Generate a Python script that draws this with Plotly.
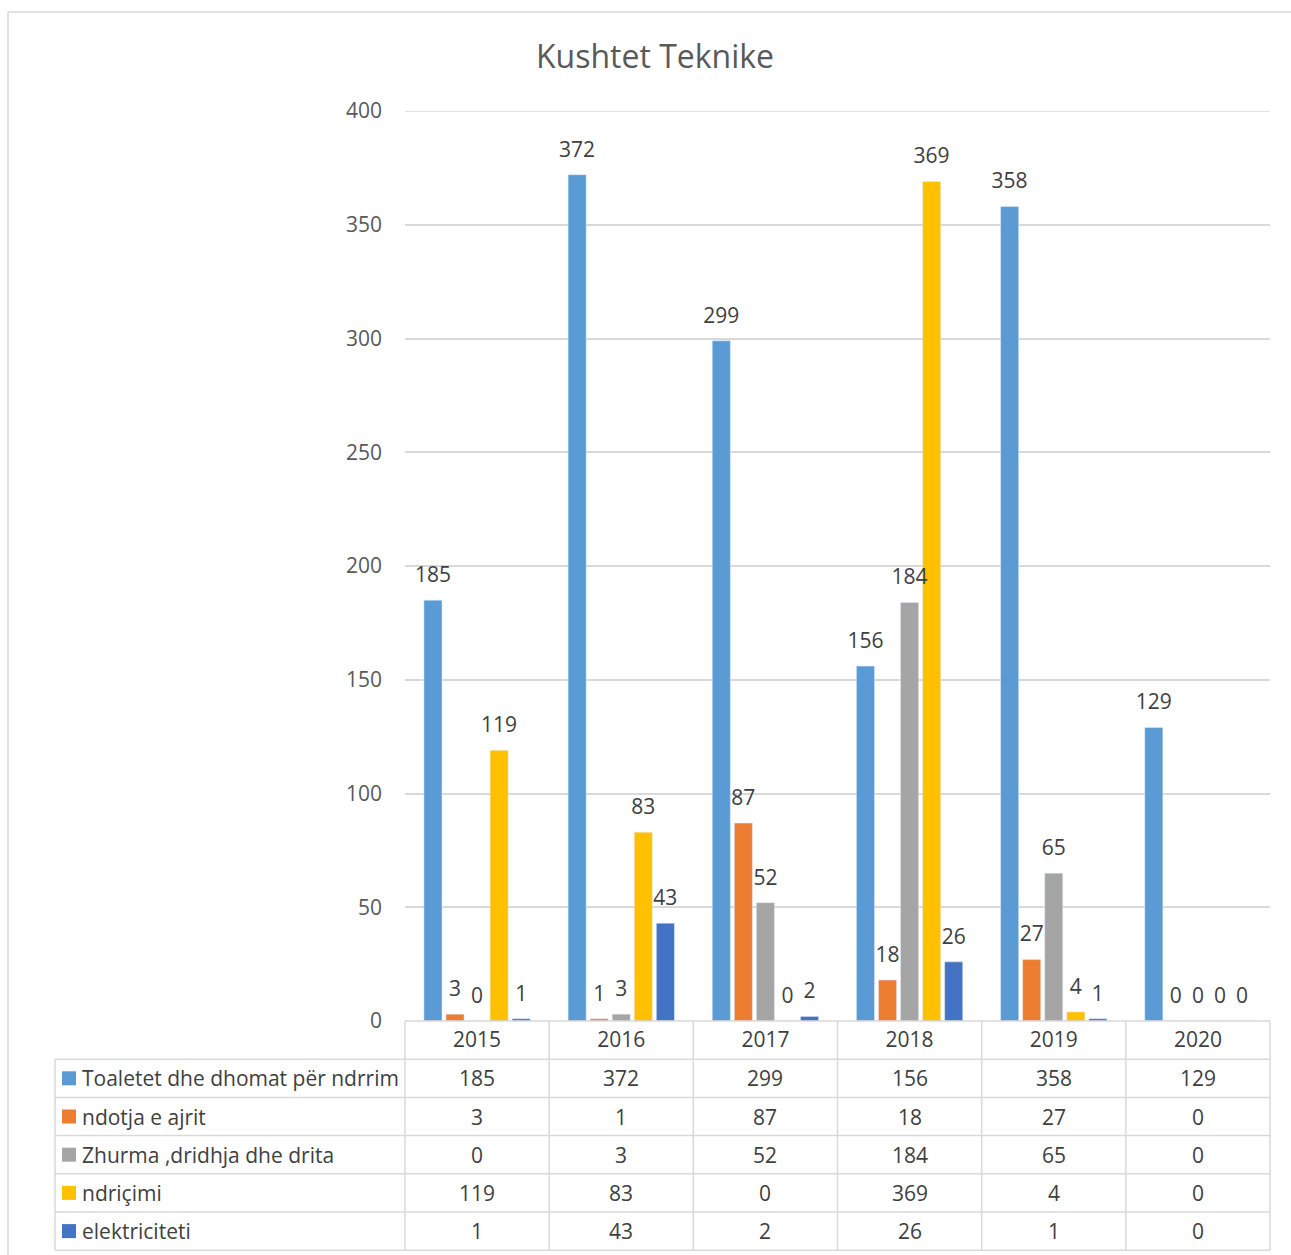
import plotly.graph_objects as go

years = ["2015", "2016", "2017", "2018", "2019", "2020"]
series_names = ["Toaletet dhe dhomat për ndrrim", "ndotja e ajrit",
                "Zhurma ,dridhja dhe drita", "ndriçimi", "elektriciteti"]
toaletet = [185, 372, 299, 156, 358, 129]
ndotja = [3, 1, 87, 18, 27, 0]
zhurma = [0, 3, 52, 184, 65, 0]
ndricimi = [119, 83, 0, 369, 4, 0]
elektriciteti = [1, 43, 2, 26, 1, 0]
colors = ["#5B9BD5", "#ED7D31", "#A5A5A5", "#FFC000", "#4472C4"]

all_values = [toaletet, ndotja, zhurma, ndricimi, elektriciteti]

W, H = 1291, 1255
L, R, T, B = 405, 1270, 111, 1021
FONT = "Open Sans"
GRID = "#d9d9d9"
TXT = "#404040"


def px(x):
    return (x - L) / (R - L)


def py(y):
    return (B - y) / (B - T)


fig = go.Figure()
for i, (name, vals, col) in enumerate(zip(series_names, all_values, colors)):
    fig.add_trace(go.Bar(x=years, y=vals, name=name, marker_color=col,
                         offsetgroup=str(i), cliponaxis=False))
for i, (name, vals) in enumerate(zip(series_names, all_values)):
    # value labels, grouped like the bars
    fig.add_trace(go.Scatter(x=years, y=vals, mode="markers+text", text=vals,
                             textposition="top center", offsetgroup=str(i),
                             marker=dict(size=19, opacity=0), cliponaxis=False,
                             hoverinfo="skip", showlegend=False,
                             textfont=dict(size=21, color=TXT, family=FONT)))

shapes = []
# top gridline at 400
shapes.append(dict(type="line", xref="paper", yref="y", x0=0, x1=1, y0=400, y1=400,
                   line=dict(color=GRID, width=1.5)))
# table horizontal lines
row_h = 38.2
for i in range(7):
    y = B + i * row_h
    x0 = L if i == 0 else 55
    shapes.append(dict(type="line", xref="paper", yref="paper",
                       x0=px(x0), x1=px(R), y0=py(y), y1=py(y),
                       line=dict(color=GRID, width=1.5)))
# table vertical lines
bottom = B + 6 * row_h
for i in range(7):
    shapes.append(dict(type="line", xref="paper", yref="paper",
                       x0=i / 6, x1=i / 6, y0=py(B), y1=py(bottom),
                       line=dict(color=GRID, width=1.5)))
shapes.append(dict(type="line", xref="paper", yref="paper",
                   x0=px(55), x1=px(55), y0=py(B + row_h), y1=py(bottom),
                   line=dict(color=GRID, width=1.5)))
# outer chart border
shapes.append(dict(type="line", xref="paper", yref="paper",
                   x0=px(8), x1=px(1291), y0=py(12), y1=py(12),
                   line=dict(color=GRID, width=1.5)))
shapes.append(dict(type="line", xref="paper", yref="paper",
                   x0=px(8), x1=px(8), y0=py(12), y1=py(1255),
                   line=dict(color=GRID, width=1.5)))

annotations = []
for r, (name, vals, col) in enumerate(zip(series_names, all_values, colors)):
    yc = B + (r + 1.5) * row_h
    shapes.append(dict(type="rect", xref="paper", yref="paper",
                       x0=px(62), x1=px(76), y0=py(yc - 7), y1=py(yc + 7),
                       fillcolor=col, line=dict(width=0)))
    annotations.append(dict(x=px(80), y=py(yc), xref="paper", yref="paper",
                            text=name, showarrow=False, xanchor="left",
                            yanchor="middle",
                            font=dict(size=21, color=TXT, family=FONT)))
    for c, v in enumerate(vals):
        annotations.append(dict(x=(c + 0.5) / 6, y=py(yc), xref="paper",
                                yref="paper", text=str(v), showarrow=False,
                                xanchor="center", yanchor="middle",
                                font=dict(size=21, color=TXT, family=FONT)))

fig.update_layout(
    width=W, height=H,
    margin=dict(l=L, r=W - R, t=T, b=H - B),
    paper_bgcolor="white", plot_bgcolor="white",
    title=dict(text="Kushtet Teknike", x=655 / W, xanchor="center",
               y=1 - 57 / H, yanchor="middle", xref="container", yref="container",
               font=dict(size=32, color="#595959", family=FONT)),
    barmode="group", bargap=0.235, bargroupgap=0.18,
    scattermode="group", scattergap=0.235,
    showlegend=False,
    xaxis=dict(showgrid=False, showline=False, ticks="",
               tickfont=dict(size=21, color=TXT, family=FONT),
               ticklabelstandoff=4),
    yaxis=dict(range=[0, 400], dtick=50, gridcolor=GRID, gridwidth=1.5,
               zeroline=False, showline=False, ticks="",
               tickfont=dict(size=21, color="#595959", family=FONT),
               ticklabelstandoff=22),
    shapes=shapes, annotations=annotations,
)

fig.write_html("out.html", config={"displayModeBar": False},
               post_script="document.body.style.margin='0';document.body.style.overflow='hidden';")
